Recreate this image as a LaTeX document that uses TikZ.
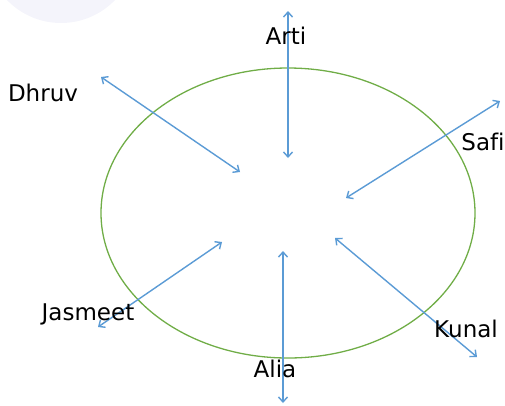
\documentclass[tikz,border=0pt]{standalone}
\usepackage{fontspec}
\setmainfont[Ligatures=NoCommon]{DejaVu Sans}
\usetikzlibrary{arrows.meta}

\definecolor{linkblue}{HTML}{5B9BD5}
\definecolor{ringgreen}{HTML}{70AD47}
\definecolor{blobgrey}{HTML}{F4F4FB}

\begin{document}
\begin{tikzpicture}[x=1pt,y=-1pt,
  friend/.style={font=\fontsize{23}{27}\selectfont, inner sep=0pt, anchor=base},
  link/.style={draw=linkblue, line width=1.4pt,
    {Straight Barb[length=5pt,width=9pt]}-{Straight Barb[length=5pt,width=9pt]}}]

\useasboundingbox (0,0) rectangle (505,405);

%faint blob in the corner
\begin{scope}
\clip (0,0) rectangle (505,405);
\fill[blobgrey] (61,-52) circle [radius=75];
\end{scope}

%the ring
\draw[ringgreen, line width=1.3pt] (288,213) ellipse [x radius=187, y radius=145];

%arrow ends
\coordinate (arti-out) at (288,11);
\coordinate (arti-in) at (288,158);
\coordinate (dhruv-out) at (101,77);
\coordinate (dhruv-in) at (240,172);
\coordinate (safi-out) at (500,101);
\coordinate (safi-in) at (346,198);
\coordinate (jasmeet-out) at (98,327);
\coordinate (jasmeet-in) at (222,242);
\coordinate (alia-out) at (283,403);
\coordinate (alia-in) at (283,251);
\coordinate (kunal-out) at (477,357);
\coordinate (kunal-in) at (335,238);

\draw[link] (arti-out) -- (arti-in);
\draw[link] (dhruv-out) -- (dhruv-in);
\draw[link] (safi-out) -- (safi-in);
\draw[link] (jasmeet-out) -- (jasmeet-in);
\draw[link] (alia-out) -- (alia-in);
\draw[link] (kunal-out) -- (kunal-in);

%names
\node[friend] (arti) at (286,44) {Arti};
\node[friend] (dhruv) at (43,101) {Dhruv};
\node[friend] (safi) at (483,150) {Safi};
\node[friend] (jasmeet) at (88,320) {Jasmeet};
\node[friend] (alia) at (275,377) {Alia};
\node[friend] (kunal) at (466,337) {Kunal};

\end{tikzpicture}
\end{document}
